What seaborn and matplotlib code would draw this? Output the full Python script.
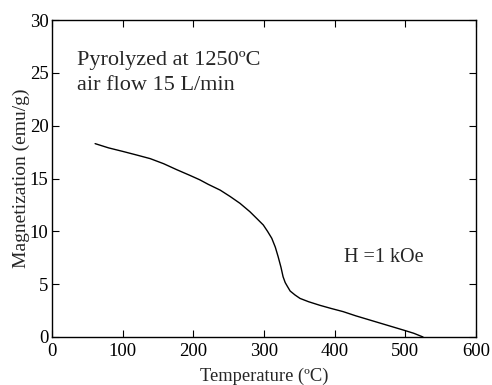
import pandas as pd
import seaborn as sns
import matplotlib.pyplot as plt

# Values
temperature = [61, 80, 101, 120, 139, 158, 176, 195, 209, 221, 238, 252, 266, 280,
               290, 299, 305, 311, 316, 320, 324, 327, 330, 333, 337, 344, 351,
               363, 379, 395, 412, 430, 450, 475, 497, 512, 525]
magnetization = [18.3, 17.9, 17.55, 17.22, 16.88, 16.4, 15.85, 15.3, 14.88, 14.45, 13.9,
                 13.3, 12.65, 11.86, 11.2, 10.6, 10.0, 9.34, 8.5, 7.6, 6.6, 5.7, 5.15,
                 4.8, 4.35, 3.97, 3.65, 3.34, 3.0, 2.7, 2.4, 2.0, 1.6, 1.1, 0.66, 0.35, 0.0]

df = pd.DataFrame({"Temperature": temperature, "Magnetization": magnetization})

sns.set_style("ticks")
plt.rcParams["font.family"] = ["Liberation Serif", "DejaVu Serif"]

fig = plt.figure(figsize=(4.92, 3.85), dpi=100)
ax = fig.add_axes([0.1057, 0.1247, 0.8618, 0.8233])

sns.lineplot(data=df, x="Temperature", y="Magnetization", color="black", linewidth=1.0, ax=ax)

ax.set_xlim(0, 600)
ax.set_ylim(0, 30)
ax.set_xticks(range(0, 601, 100))
ax.set_yticks(range(0, 31, 5))
ax.tick_params(direction="in", length=5, width=0.8, top=True, right=True,
               labelsize=13.5, colors="black")
ax.tick_params(axis="x", pad=4)
ax.tick_params(axis="y", pad=2.5)
for s in ax.spines.values():
    s.set_visible(True)
    s.set_linewidth(1.0)
    s.set_color("black")

ax.set_xlabel("Temperature (ºC)", fontsize=13.3, labelpad=6)
ax.set_ylabel("Magnetization (emu/g)", fontsize=14, labelpad=0)

ax.text(35, 25.74, "Pyrolyzed at 1250ºC", fontsize=16, va="baseline", ha="left")
ax.text(35, 23.37, "air flow 15 L/min", fontsize=16, va="baseline", ha="left")
ax.text(413, 7.1, "H =1 kOe", fontsize=14.5, va="baseline", ha="left")

plt.savefig("out.png", dpi=100)
